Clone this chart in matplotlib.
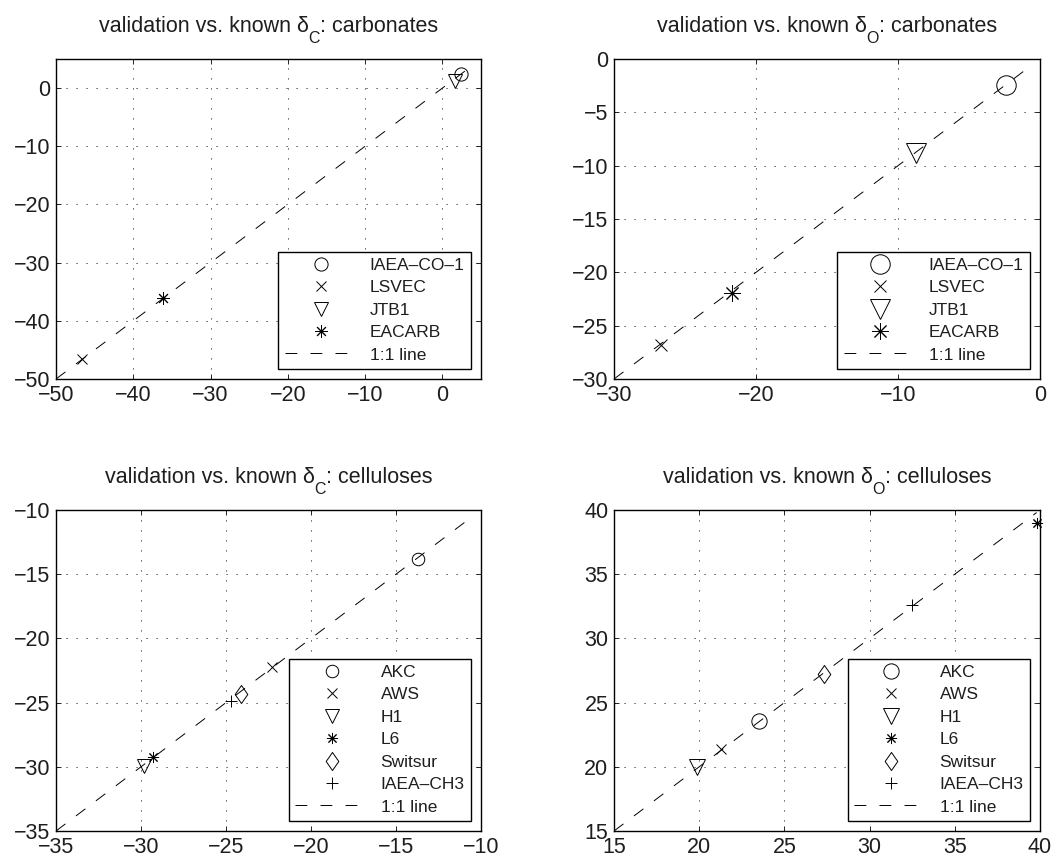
import matplotlib
matplotlib.use("Agg")
import matplotlib.pyplot as plt
from matplotlib.path import Path
from matplotlib.transforms import IdentityTransform

plt.rcParams['font.family'] = ['Liberation Sans', 'DejaVu Sans']
plt.rcParams['lines.scale_dashes'] = False
plt.rcParams['axes.unicode_minus'] = True

TXT = '#1e1e1e'

# ---------------- data ----------------
# top-left: delta C, carbonates
tl_names = ['IAEA–CO–1', 'LSVEC', 'JTB1', 'EACARB']
tl_known = [2.4, -46.7, 1.6, -36.1]
tl_valid = [2.4, -46.6, 1.3, -36.0]
tl_line = [-50, 3]

# top-right: delta O, carbonates
tr_names = ['IAEA–CO–1', 'LSVEC', 'JTB1', 'EACARB']
tr_known = [-2.4, -26.7, -8.7, -21.7]
tr_valid = [-2.4, -26.8, -8.8, -21.9]
tr_line = [-30, -1]

# bottom-left: delta C, celluloses
bl_names = ['AKC', 'AWS', 'H1', 'L6', 'Switsur', 'IAEA–CH3']
bl_known = [-13.7, -22.3, -29.8, -29.3, -24.1, -24.7]
bl_valid = [-13.8, -22.2, -29.9, -29.2, -24.3, -24.9]
bl_line = [-35, -10.8]

# bottom-right: delta O, celluloses
br_names = ['AKC', 'AWS', 'H1', 'L6', 'Switsur', 'IAEA–CH3']
br_known = [23.5, 21.3, 19.9, 39.8, 27.3, 32.5]
br_valid = [23.6, 21.4, 20.0, 39.0, 27.2, 32.6]
br_line = [15, 39.8]

title_main = 'validation vs. known δ'
title_subs = ['C', 'O', 'C', 'O']
title_tails = [': carbonates', ': carbonates', ': celluloses', ': celluloses']

# ---------------- styles ----------------
diamond = Path([(0, 1), (0.7, 0), (0, -1), (-0.7, 0), (0, 1)],
               [Path.MOVETO, Path.LINETO, Path.LINETO, Path.LINETO, Path.CLOSEPOLY])
star = (8, 2, 0)

carb_markers = ['o', 'x', 'v', star]
cell_markers = ['o', 'x', 'v', star, diamond, '+']

tl_sizes = [9.5, 7, 10, 9]
tr_sizes = [14, 8, 14, 12]
bl_sizes = [9, 7, 9.5, 8, 13, 9]
br_sizes = [11, 7, 11, 8, 13, 9]

fig = plt.figure(figsize=(10.52, 8.59), dpi=100)
W, H = 1052, 859
def pos(l, t, r, b):
    return [l / W, 1 - b / H, (r - l) / W, (b - t) / H]

panels = [
    (pos(56, 59, 481, 379), tl_names, tl_known, tl_valid, tl_line, carb_markers, tl_sizes,
     (-50, 5), (-50, 5), list(range(-50, 1, 10)), list(range(-50, 1, 10))),
    (pos(614, 59, 1040, 379), tr_names, tr_known, tr_valid, tr_line, carb_markers, tr_sizes,
     (-30, 0), (-30, 0), list(range(-30, 1, 10)), list(range(-30, 1, 5))),
    (pos(56, 510, 481, 831), bl_names, bl_known, bl_valid, bl_line, cell_markers, bl_sizes,
     (-35, -10), (-35, -10), list(range(-35, -9, 5)), list(range(-35, -9, 5))),
    (pos(614, 510, 1040, 831), br_names, br_known, br_valid, br_line, cell_markers, br_sizes,
     (15, 40), (15, 40), list(range(15, 41, 5)), list(range(15, 41, 5))),
]

renderer = fig.canvas.get_renderer()
ident = IdentityTransform()

def place_title(ax, main, sub, tail):
    bb = ax.get_position()
    cx = (bb.x0 + bb.x1) / 2 * W
    base = bb.y1 * H + 27
    t1 = fig.text(0, base, main, fontsize=15.5, color=TXT, va='baseline', ha='left', transform=ident)
    t2 = fig.text(0, base - 11, sub, fontsize=11.5, color=TXT, va='baseline', ha='left', transform=ident)
    t3 = fig.text(0, base, tail, fontsize=15.5, color=TXT, va='baseline', ha='left', transform=ident)
    w1 = t1.get_window_extent(renderer).width
    w2 = t2.get_window_extent(renderer).width
    w3 = t3.get_window_extent(renderer).width
    x0 = cx - (w1 + w2 + w3) / 2
    t1.set_x(x0)
    t2.set_x(x0 + w1)
    t3.set_x(x0 + w1 + w2)

for i, (p, names, xk, yv, line, markers, sizes, xl, yl, xt, yt) in enumerate(panels):
    ax = fig.add_axes(p)
    for n, xx, yy, m, s in zip(names, xk, yv, markers, sizes):
        ax.plot([xx], [yy], linestyle='none', marker=m, markersize=s,
                markerfacecolor='none', markeredgecolor='black',
                markeredgewidth=0.7, color='black', label=n, clip_on=False, zorder=3)
    ax.plot(line, line, color='black', linewidth=0.7, dashes=(8.5, 9.5), label='1:1 line', zorder=2)
    ax.set_xlim(*xl)
    ax.set_ylim(*yl)
    ax.set_xticks(xt)
    ax.set_yticks(yt)
    ax.grid(True, color='black', linewidth=0.6, dashes=(0.8, 6.4))
    ax.set_axisbelow(True)
    ax.tick_params(direction='in', length=3.5, width=0.6, top=True, right=True,
                   labelsize=15.5, labelcolor=TXT, pad=4)
    for sp in ax.spines.values():
        sp.set_linewidth(1.0)
        sp.set_color('black')
    place_title(ax, title_main, title_subs[i], title_tails[i])
    leg = ax.legend(loc='lower right', fontsize=12.5, numpoints=1, handlelength=4.2,
                    handletextpad=0.7, borderpad=0.35, labelspacing=0.42,
                    borderaxespad=0.6, fancybox=False, framealpha=1, edgecolor='black')
    leg.get_frame().set_linewidth(1.0)
    for t in leg.get_texts():
        t.set_color(TXT)

fig.savefig('out.png', dpi=100)
